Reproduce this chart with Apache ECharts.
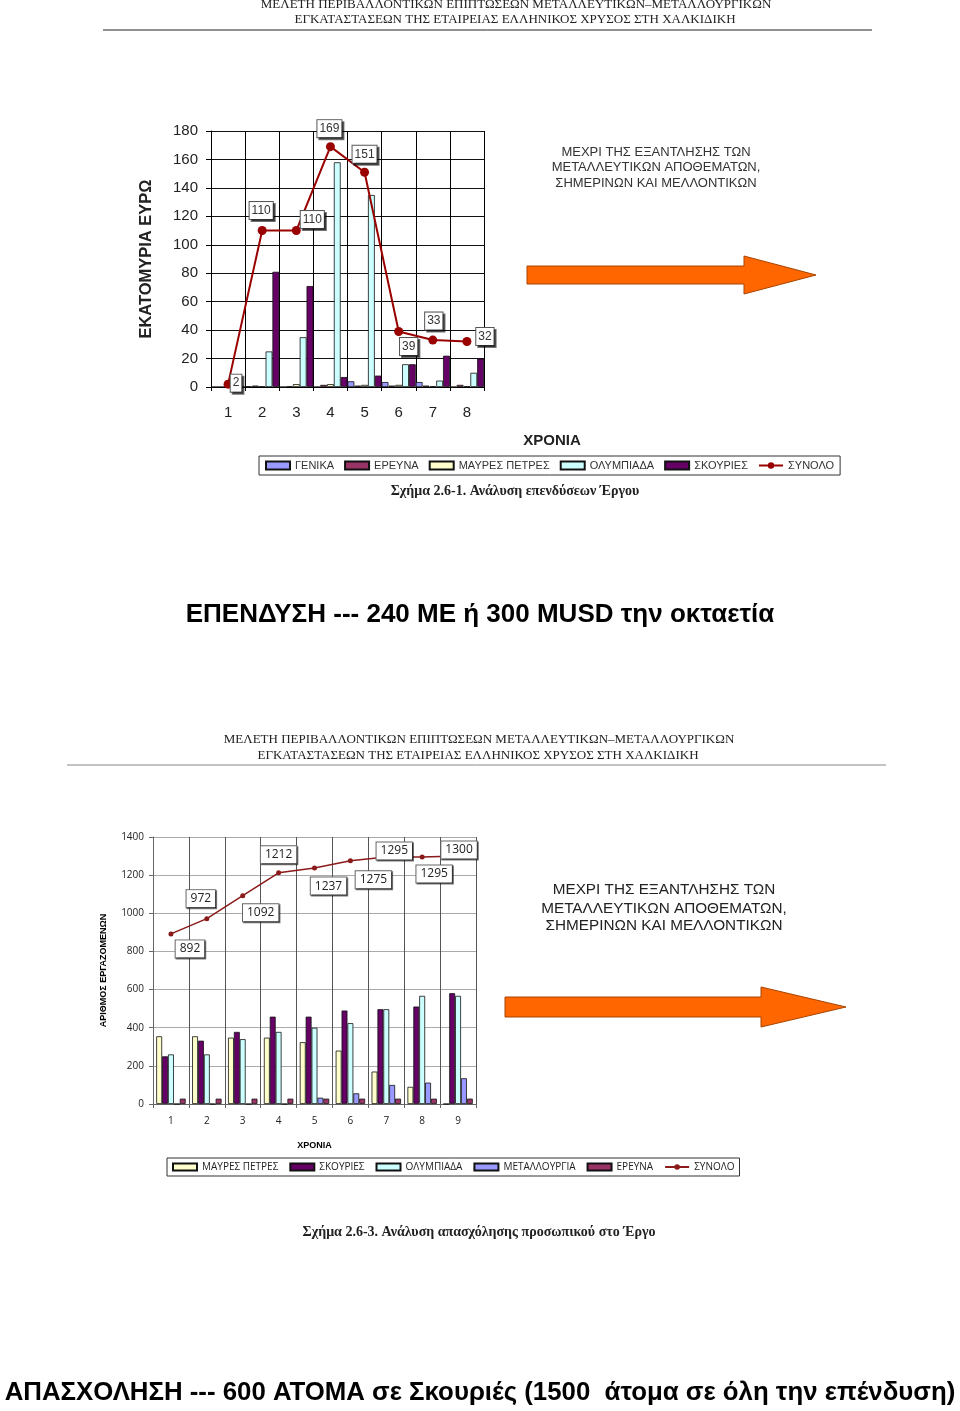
<!DOCTYPE html>
<html>
<head>
<meta charset="utf-8">
<title>Επενδύσεις και απασχόληση</title>
<script src="https://cdn.jsdelivr.net/npm/echarts@6.0.0/dist/echarts.min.js"></script>
<style>
  html, body { margin: 0; padding: 0; background: #fff; }
  #main { width: 960px; height: 1411px; }
</style>
</head>
<body>
<div id="main"></div>
<script>
// ---- Σχήμα 2.6-1 : επενδύσεις (εκατ. ευρώ) ----
var years1 = ['1', '2', '3', '4', '5', '6', '7', '8'];
var genika = [0, 0.5, 0, 0, 4, 3.5, 3.5, 0];
var erevna = [0, 1, 0.5, 1.5, 1, 1, 1, 1.5];
var mavresPetres = [0, 0.5, 2, 2, 1.5, 1.5, 0.5, 0.5];
var olympiada = [0, 25, 35, 158, 135, 16, 4.5, 10];
var skouries = [0, 81, 71, 7, 8, 16, 22, 20];
var synolo1 = [2, 110, 110, 169, 151, 39, 33, 32];
var yTicks1 = { min: 0, max: 180, step: 20 };

// ---- Σχήμα 2.6-3 : απασχόληση προσωπικού ----
var years2 = ['1', '2', '3', '4', '5', '6', '7', '8', '9'];
var mavresPetres2 = [355, 355, 348, 348, 324, 280, 170, 90, 0];
var skouries2 = [250, 332, 378, 458, 458, 490, 497, 511, 581];
var olympiada2 = [260, 260, 340, 378, 400, 424, 497, 567, 567];
var metallourgia2 = [0, 0, 0, 0, 33, 56, 100, 112, 135];
var erevna2 = [28, 28, 28, 28, 28, 28, 28, 28, 28];
var synolo2 = [892, 972, 1092, 1212, 1237, 1275, 1295, 1295, 1300];
var yTicks2 = { min: 0, max: 1400, step: 200 };

// θέσεις των ετικετών (σε px, από το σημείο)
var labelOffsets1 = [[8, -1], [-1, -20], [16, -11], [-1, -18], [0, -18], [10, 15], [1, -19], [18, -5]];
var labelOffsets2 = [[19, 15], [-6, -20], [18, 17], [0, -18], [14, 18], [23, 19], [8, -6], [12, 17], [1, -6]];

var COL = {
  genika: '#9999ff',
  erevna: '#993366',
  mavres: '#ffffcc',
  olymp: '#ccffff',
  skour: '#660066',
  line: '#990000',
  arrow: '#ff6600'
};

var chart = echarts.init(document.getElementById('main'));

function bar(name, data, color, idx) {
  return {
    name: name, type: 'bar', data: data,
    xAxisIndex: idx, yAxisIndex: idx,
    barGap: '0%', barCategoryGap: idx === 0 ? '0%' : '18%',
    itemStyle: { color: color, borderColor: '#111', borderWidth: 0.8 },
    animation: false
  };
}

function withLabels(values, offsets) {
  return values.map(function (v, i) {
    return { value: v, label: { offset: offsets[i] } };
  });
}

var labelBox = {
  show: true, position: 'inside',
  backgroundColor: '#fff', borderColor: '#555', borderWidth: 1,
  shadowColor: 'rgba(0,0,0,0.55)', shadowOffsetX: 2, shadowOffsetY: 2, shadowBlur: 0
};

function txt(text, x, y, font, color, weight, family) {
  return {
    type: 'text', x: x, y: y, z: 10,
    style: {
      text: text, fill: color || '#000',
      fontSize: font, fontWeight: weight || 'normal',
      fontFamily: family || 'Liberation Sans',
      textAlign: 'center', textVerticalAlign: 'middle',
      align: 'center', verticalAlign: 'middle'
    }
  };
}

function arrow(x0, x1, xh, yc, shaft, head) {
  return {
    type: 'polygon', z: 5,
    shape: {
      points: [[x0, yc - shaft], [xh, yc - shaft], [xh, yc - head], [x1, yc],
               [xh, yc + head], [xh, yc + shaft], [x0, yc + shaft]]
    },
    style: { fill: COL.arrow, stroke: '#a84400', lineWidth: 1 }
  };
}

var serif = 'Liberation Serif';

var option = {
  backgroundColor: '#fff',
  animation: false,
  grid: [
    { left: 211, top: 131, width: 273, height: 256 },
    { left: 153, top: 837, width: 323, height: 267 }
  ],
  legend: [
    {
      left: 259, top: 456, padding: [4, 6], itemGap: 10,
      itemWidth: 24, itemHeight: 8,
      borderColor: '#333', borderWidth: 1,
      textStyle: { fontSize: 11, color: '#333', fontFamily: 'Liberation Sans' },
      data: [
        { name: 'ΓΕΝΙΚΑ', icon: 'rect' },
        { name: 'ΕΡΕΥΝΑ', icon: 'rect' },
        { name: 'ΜΑΥΡΕΣ ΠΕΤΡΕΣ', icon: 'rect' },
        { name: 'ΟΛΥΜΠΙΑΔΑ', icon: 'rect' },
        { name: 'ΣΚΟΥΡΙΕΣ', icon: 'rect' },
        'ΣΥΝΟΛΟ'
      ]
    },
    {
      left: 167, top: 1158, padding: [4, 5], itemGap: 11,
      itemWidth: 24, itemHeight: 7,
      borderColor: '#333', borderWidth: 1,
      textStyle: { fontSize: 10, color: '#222', fontFamily: 'Open Sans' },
      formatter: function (n) { return n.replace(/ 2$/, ''); },
      data: [
        { name: 'ΜΑΥΡΕΣ ΠΕΤΡΕΣ 2', icon: 'rect' },
        { name: 'ΣΚΟΥΡΙΕΣ 2', icon: 'rect' },
        { name: 'ΟΛΥΜΠΙΑΔΑ 2', icon: 'rect' },
        { name: 'ΜΕΤΑΛΛΟΥΡΓΙΑ 2', icon: 'rect' },
        { name: 'ΕΡΕΥΝΑ 2', icon: 'rect' },
        'ΣΥΝΟΛΟ 2'
      ]
    }
  ],
  xAxis: [
    {
      type: 'category', gridIndex: 0, data: years1,
      axisLine: { lineStyle: { color: '#000', width: 1 } },
      axisTick: { show: true, length: 4, lineStyle: { color: '#000' } },
      splitLine: { show: true, lineStyle: { color: '#000', width: 1 } },
      axisLabel: { fontSize: 15, color: '#222', margin: 18, fontFamily: 'Liberation Sans' }
    },
    {
      type: 'category', gridIndex: 1, data: years2,
      name: 'ΧΡΟΝΙΑ', nameLocation: 'middle', nameGap: 37,
      nameTextStyle: { fontSize: 9, fontWeight: 'bold', color: '#000', fontFamily: 'Liberation Sans' },
      axisLine: { lineStyle: { color: '#666', width: 1 } },
      axisTick: { show: true, length: 4, lineStyle: { color: '#666' } },
      splitLine: { show: true, lineStyle: { color: '#555', width: 1 } },
      axisLabel: { fontSize: 10, color: '#222', margin: 12, fontFamily: 'Open Sans' }
    }
  ],
  yAxis: [
    {
      type: 'value', gridIndex: 0,
      min: yTicks1.min, max: yTicks1.max, interval: yTicks1.step,
      name: 'ΕΚΑΤΟΜΥΡΙΑ ΕΥΡΩ', nameLocation: 'middle', nameGap: 56,
      nameTextStyle: { fontSize: 16.5, fontWeight: 'bold', color: '#222', fontFamily: 'Liberation Sans' },
      axisLine: { show: true, lineStyle: { color: '#000', width: 1 } },
      axisTick: { show: true, length: 5, lineStyle: { color: '#000' } },
      splitLine: { lineStyle: { color: '#111', width: 1 } },
      axisLabel: { fontSize: 15, color: '#222', margin: 13, fontFamily: 'Liberation Sans' }
    },
    {
      type: 'value', gridIndex: 1,
      min: yTicks2.min, max: yTicks2.max, interval: yTicks2.step,
      name: 'ΑΡΙΘΜΟΣ ΕΡΓΑΖΟΜΕΝΩΝ', nameLocation: 'middle', nameGap: 45,
      nameTextStyle: { fontSize: 9, fontWeight: 'bold', color: '#000', fontFamily: 'Liberation Sans' },
      axisLine: { show: true, lineStyle: { color: '#666', width: 1 } },
      axisTick: { show: true, length: 4, lineStyle: { color: '#666' } },
      splitLine: { lineStyle: { color: '#aaa', width: 1 } },
      axisLabel: {
        fontSize: 10, color: '#222', margin: 9, fontFamily: 'Open Sans',
        formatter: function (v) { return String(v); }
      }
    }
  ],
  series: [
    bar('ΓΕΝΙΚΑ', genika, COL.genika, 0),
    bar('ΕΡΕΥΝΑ', erevna, COL.erevna, 0),
    bar('ΜΑΥΡΕΣ ΠΕΤΡΕΣ', mavresPetres, COL.mavres, 0),
    bar('ΟΛΥΜΠΙΑΔΑ', olympiada, COL.olymp, 0),
    bar('ΣΚΟΥΡΙΕΣ', skouries, COL.skour, 0),
    {
      name: 'ΣΥΝΟΛΟ', type: 'line', xAxisIndex: 0, yAxisIndex: 0, z: 4,
      data: withLabels(synolo1, labelOffsets1),
      symbol: 'circle', symbolSize: 9,
      lineStyle: { color: COL.line, width: 2 },
      itemStyle: { color: COL.line },
      label: Object.assign({}, labelBox, {
        fontSize: 12, color: '#333', fontFamily: 'Liberation Sans', padding: [3, 2, 2, 2]
      })
    },
    bar('ΜΑΥΡΕΣ ΠΕΤΡΕΣ 2', mavresPetres2, COL.mavres, 1),
    bar('ΣΚΟΥΡΙΕΣ 2', skouries2, COL.skour, 1),
    bar('ΟΛΥΜΠΙΑΔΑ 2', olympiada2, COL.olymp, 1),
    bar('ΜΕΤΑΛΛΟΥΡΓΙΑ 2', metallourgia2, COL.genika, 1),
    bar('ΕΡΕΥΝΑ 2', erevna2, COL.erevna, 1),
    {
      name: 'ΣΥΝΟΛΟ 2', type: 'line', xAxisIndex: 1, yAxisIndex: 1, z: 4,
      data: withLabels(synolo2, labelOffsets2),
      symbol: 'circle', symbolSize: 5,
      lineStyle: { color: '#8b1a1a', width: 1.5 },
      itemStyle: { color: '#8b1a1a' },
      label: Object.assign({}, labelBox, {
        fontSize: 12, color: '#222', fontFamily: 'Open Sans', padding: [3, 4, 2, 4],
        shadowOffsetX: 1, shadowOffsetY: 1, borderColor: '#666'
      })
    }
  ],
  graphic: [
    // κεφαλίδα 1
    txt('ΜΕΛΕΤΗ ΠΕΡΙΒΑΛΛΟΝΤΙΚΩΝ ΕΠΙΠΤΩΣΕΩΝ ΜΕΤΑΛΛΕΥΤΙΚΩΝ–ΜΕΤΑΛΛΟΥΡΓΙΚΩΝ', 516, 5, 13, '#222', 'normal', serif),
    txt('ΕΓΚΑΤΑΣΤΑΣΕΩΝ ΤΗΣ ΕΤΑΙΡΕΙΑΣ ΕΛΛΗΝΙΚΟΣ ΧΡΥΣΟΣ ΣΤΗ ΧΑΛΚΙΔΙΚΗ', 515, 20, 13, '#222', 'normal', serif),
    { type: 'line', shape: { x1: 103, y1: 30, x2: 872, y2: 30 }, style: { stroke: '#222', lineWidth: 1 } },

    txt('ΧΡΟΝΙΑ', 552, 441, 15, '#222', 'bold'),
    txt('Σχήμα 2.6-1. Ανάλυση επενδύσεων Έργου', 515, 491, 14, '#222', 'bold', serif),

    txt('ΜΕΧΡΙ ΤΗΣ ΕΞΑΝΤΛΗΣΗΣ ΤΩΝ', 656, 152, 13, '#333'),
    txt('ΜΕΤΑΛΛΕΥΤΙΚΩΝ ΑΠΟΘΕΜΑΤΩΝ,', 656, 167, 13, '#333'),
    txt('ΣΗΜΕΡΙΝΩΝ ΚΑΙ ΜΕΛΛΟΝΤΙΚΩΝ', 656, 183, 13, '#333'),
    arrow(527, 816, 744, 275, 9, 19),

    txt('ΕΠΕΝΔΥΣΗ --- 240 ΜΕ ή 300 MUSD την οκταετία', 480, 615, 26, '#000', 'bold'),

    // κεφαλίδα 2
    txt('ΜΕΛΕΤΗ ΠΕΡΙΒΑΛΛΟΝΤΙΚΩΝ ΕΠΙΠΤΩΣΕΩΝ ΜΕΤΑΛΛΕΥΤΙΚΩΝ–ΜΕΤΑΛΛΟΥΡΓΙΚΩΝ', 479, 740, 13, '#222', 'normal', serif),
    txt('ΕΓΚΑΤΑΣΤΑΣΕΩΝ ΤΗΣ ΕΤΑΙΡΕΙΑΣ ΕΛΛΗΝΙΚΟΣ ΧΡΥΣΟΣ ΣΤΗ ΧΑΛΚΙΔΙΚΗ', 478, 756, 13, '#222', 'normal', serif),
    { type: 'line', shape: { x1: 67, y1: 765, x2: 886, y2: 765 }, style: { stroke: '#888', lineWidth: 1 } },

    txt('ΜΕΧΡΙ ΤΗΣ ΕΞΑΝΤΛΗΣΗΣ ΤΩΝ', 664, 890, 15.3, '#222'),
    txt('ΜΕΤΑΛΛΕΥΤΙΚΩΝ ΑΠΟΘΕΜΑΤΩΝ,', 664, 909, 15.3, '#222'),
    txt('ΣΗΜΕΡΙΝΩΝ ΚΑΙ ΜΕΛΛΟΝΤΙΚΩΝ', 664, 926, 15.3, '#222'),
    arrow(505, 846, 761, 1007, 10, 20),

    txt('Σχήμα 2.6-3. Ανάλυση απασχόλησης προσωπικού στο Έργο', 479, 1232, 14, '#222', 'bold', serif),

    txt('ΑΠΑΣΧΟΛΗΣΗ --- 600 ΑΤΟΜΑ σε Σκουριές (1500  άτομα σε όλη την επένδυση)', 480, 1393, 25.8, '#000', 'bold')
  ]
};

chart.setOption(option);
</script>
</body>
</html>
